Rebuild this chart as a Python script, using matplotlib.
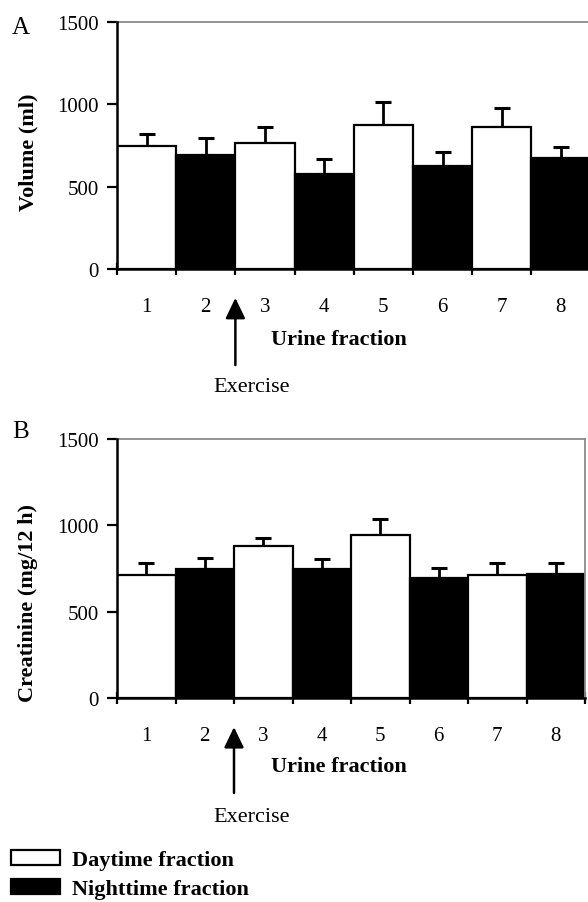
import numpy as np
import matplotlib
matplotlib.use("Agg")
import matplotlib.pyplot as plt
from matplotlib.patches import Patch

plt.rcParams['font.family'] = ['Liberation Serif', 'DejaVu Serif']

fractions = ['1', '2', '3', '4', '5', '6', '7', '8']
volume = [745, 694, 765, 575, 874, 627, 862, 672]
volume_err = [74, 104, 97, 91, 140, 81, 117, 71]
creatinine = [715, 750, 879, 750, 943, 694, 715, 719]
creatinine_err = [66, 60, 46, 57, 94, 61, 66, 62]
kinds = ['Daytime fraction', 'Nighttime fraction']
colors = {'Daytime fraction': 'white', 'Nighttime fraction': 'black'}
bar_kind = [kinds[i % 2] for i in range(len(fractions))]

W, H = 588, 903
fig = plt.figure(figsize=(W / 100, H / 100), dpi=100)


def px_axes(left, top, right, bottom):
    return fig.add_axes([left / W, 1 - bottom / H, (right - left) / W, (bottom - top) / H])


axA = px_axes(117, 23, 590.5, 270)
axB = px_axes(117, 440, 585, 699.3)


def draw(ax, vals, errs, ylabel, ylab_y, letter, letter_y, arrow_tip, arrow_end, ex_y, xl_y):
    x = np.arange(len(vals)) + 0.5
    ax.errorbar(x, vals, yerr=[np.zeros(len(vals)), errs], fmt='none', ecolor='black',
                elinewidth=2.0, capsize=6, capthick=2.2, zorder=1)
    ax.bar(x, vals, width=1.0, color=[colors[k] for k in bar_kind], edgecolor='black',
           linewidth=1.6, zorder=2)
    ax.set_xlim(0, len(vals))
    ax.set_ylim(0, 1500)
    ax.set_yticks([0, 500, 1000, 1500])
    ax.set_xticks(np.arange(len(vals) + 1))
    ax.set_xticklabels([])
    ax.set_xticks(x, minor=True)
    ax.set_xticklabels(fractions, minor=True)
    ax.tick_params(axis='x', which='major', direction='inout', length=9, width=1.6)
    ax.tick_params(axis='x', which='minor', length=0, pad=20, labelsize=15)
    ax.tick_params(axis='y', direction='out', length=7, width=1.6, pad=6, labelsize=15)
    for s in ['left', 'bottom']:
        ax.spines[s].set_color('black')
        ax.spines[s].set_linewidth(1.8)
    for s in ['top', 'right']:
        ax.spines[s].set_color('#8a8a8a')
        ax.spines[s].set_linewidth(1.3)
    ax.spines['left'].set_zorder(3)
    fig.text(28 / W, 1 - ylab_y / H, ylabel, rotation=90, ha='center', va='center',
             fontsize=16, fontweight='bold')
    fig.text(339 / W, 1 - xl_y / H, 'Urine fraction', ha='center', va='center',
             fontsize=16, fontweight='bold')
    fig.text(21 / W, 1 - letter_y / H, letter, ha='center', va='center', fontsize=18)
    ax.annotate('', xy=(2, arrow_tip), xycoords=('data', 'axes fraction'),
                xytext=(2, arrow_end), textcoords=('data', 'axes fraction'),
                arrowprops=dict(arrowstyle='-|>,head_length=1.25,head_width=0.6',
                                color='black', lw=1.8, shrinkA=0, shrinkB=0),
                annotation_clip=False)
    fig.text(252 / W, 1 - ex_y / H, 'Exercise', ha='center', va='center', fontsize=16)


draw(axA, volume, volume_err, 'Volume (ml)', 152, 'A', 28, -0.117, -0.389, 388, 340)
draw(axB, creatinine, creatinine_err, 'Creatinine (mg/12 h)', 603, 'B', 432, -0.111, -0.365, 818, 767)

handles = [Patch(facecolor=colors[k], edgecolor='black', linewidth=1.6) for k in kinds]
fig.legend(handles, kinds, loc='upper left', bbox_to_anchor=(11 / W, 1 - 851 / H),
           frameon=False, borderpad=0, borderaxespad=0, handlelength=2.2, handleheight=0.65,
           handletextpad=0.55, labelspacing=0.4, prop={'size': 16, 'weight': 'bold'})

fig.savefig('out.png', dpi=100)
